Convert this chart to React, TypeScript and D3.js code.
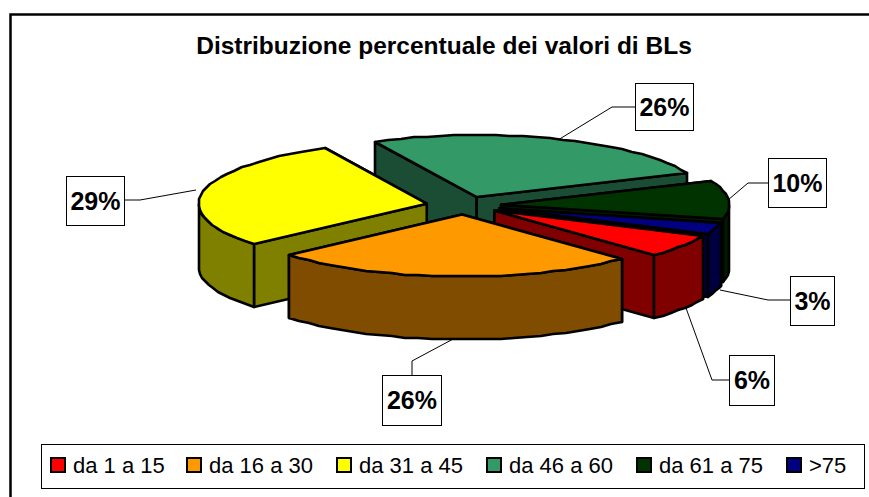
import React from "react";
import * as d3 from "d3";

const categories = ["da 1 a 15", "da 16 a 30", "da 31 a 45", "da 46 a 60", "da 61 a 75", ">75"];
const values = [6, 26, 29, 26, 10, 3];
const percentLabels = ["6%", "26%", "29%", "26%", "10%", "3%"];
const topColors = ["#FF0000", "#FF9900", "#FFFF00", "#339966", "#003300", "#000080"];
const wallColors = ["#800000", "#804C00", "#808000", "#1A4D33", "#001A00", "#000040"];
const drawOrder = [3, 2, 4, 5, 0, 1];

const W = 869, H = 497;
const FONT = "'Liberation Sans', Arial, sans-serif";
const cx = 463.6, cy = 205.5, rx = 228, ry = 62, depth = 63, explodeX = 37.6, explodeY = 9;
const startDeg = 114;

// label box [x, y, w, h] and leader polyline per slice
const labelBoxes = [
  { box: [729, 355, 45, 50], leader: [[729, 380], [712, 380], [686, 308]] },
  { box: [382, 375, 59, 50], leader: [[412, 375], [412, 361], [455, 338]] },
  { box: [66, 176, 58, 49], leader: [[124, 200], [140, 200], [196, 190]] },
  { box: [635, 83, 58, 47], leader: [[635, 107], [612, 107], [558, 140]] },
  { box: [768, 158, 58, 49], leader: [[768, 183], [748, 183], [728, 200]] },
  { box: [790, 276, 44, 49], leader: [[790, 300], [768, 300], [720, 290]] },
];

const pie = d3.pie<number>().sort(null)
  .startAngle((startDeg * Math.PI) / 180)
  .endAngle((startDeg * Math.PI) / 180 + 2 * Math.PI);
const arcs = pie(values);

const line = d3.line<[number, number]>().x(d => d[0]).y(d => d[1]);
const closed = (pts: [number, number][]) => line(pts) + "Z";
const STEP = (3.5 * Math.PI) / 180;

function sampleAngles(a0: number, a1: number) {
  const n = Math.max(1, Math.ceil((a1 - a0) / STEP));
  return d3.range(n + 1).map(i => a0 + ((a1 - a0) * i) / n);
}

function Slice({ i }: { i: number }) {
  const { startAngle: a0, endAngle: a1 } = arcs[i];
  const m = (a0 + a1) / 2;
  const ax = cx + explodeX * Math.sin(m);
  const ay = cy - explodeY * Math.cos(m);
  const pt = (t: number): [number, number] => [
    Math.round(ax + rx * Math.sin(t)),
    Math.round(ay - ry * Math.cos(t)),
  ];
  const down = (p: [number, number]): [number, number] => [p[0], p[1] + depth];
  const apex: [number, number] = [ax, ay];
  const ps = pt(a0), pe = pt(a1);
  const face = (p: [number, number]): [number, number][] => [apex, p, down(p), down(apex)];
  const faces = [ps, pe].sort((a, b) => a[1] - b[1]).map(face);

  // outer wall: only the front half of the ellipse faces the viewer
  const walls: [number, number][][] = [];
  for (const k of [0, 2]) {
    const lo = Math.max(a0, Math.PI / 2 + k * Math.PI);
    const hi = Math.min(a1, (3 * Math.PI) / 2 + k * Math.PI);
    if (hi > lo) {
      const top = sampleAngles(lo, hi).map(pt);
      walls.push([...top, ...top.slice().reverse().map(down)]);
    }
  }
  const rim = sampleAngles(a0, a1).map(pt);
  const common = { stroke: "#000", strokeWidth: 2.6, strokeLinejoin: "round" as const };
  return (
    <g>
      {faces.map((f, k) => <path key={k} d={closed(f)} fill={wallColors[i]} {...common} />)}
      {walls.map((f, k) => <path key={k} d={closed(f)} fill={wallColors[i]} {...common} />)}
      <path d={closed([apex, ...rim])} fill={topColors[i]} {...common} />
    </g>
  );
}

const legendX = [51, 187, 337, 487, 637, 787];

export default function App() {
  return (
    <svg width={W} height={H} viewBox={`0 0 ${W} ${H}`}
      style={{ position: "absolute", left: 0, top: 0, background: "#fff" }}>
      <path d={`M${W} 14.5H10.5V${H}`} fill="none" stroke="#000" strokeWidth={2.5} />
      <text x={444} y={54} textAnchor="middle" fontFamily={FONT} fontWeight="bold" fontSize={24.5}>
        Distribuzione percentuale dei valori di BLs
      </text>

      {labelBoxes.map((l, i) => (
        <path key={i} d={line(l.leader as [number, number][]) ?? ""} fill="none" stroke="#000" strokeWidth={1} />
      ))}
      {drawOrder.map(i => <Slice key={i} i={i} />)}

      {labelBoxes.map((l, i) => {
        const [x, y, w, h] = l.box;
        return (
          <g key={i}>
            <rect x={x + 0.5} y={y + 0.5} width={w} height={h} fill="#fff" stroke="#000" strokeWidth={1} />
            <text x={x + w / 2 + 0.5} y={y + h / 2 + 9} textAnchor="middle" fontFamily={FONT}
              fontWeight="bold" fontSize={25}>{percentLabels[i]}</text>
          </g>
        );
      })}

      <rect x={41.5} y={444.5} width={823} height={44} fill="#fff" stroke="#000" strokeWidth={1} />
      {categories.map((c, i) => (
        <g key={c}>
          <rect x={legendX[i]} y={458} width={14} height={14} fill={topColors[i]} stroke="#000" strokeWidth={2} />
          <text x={legendX[i] + 22} y={473} fontFamily={FONT} fontSize={22}>{c}</text>
        </g>
      ))}
    </svg>
  );
}
